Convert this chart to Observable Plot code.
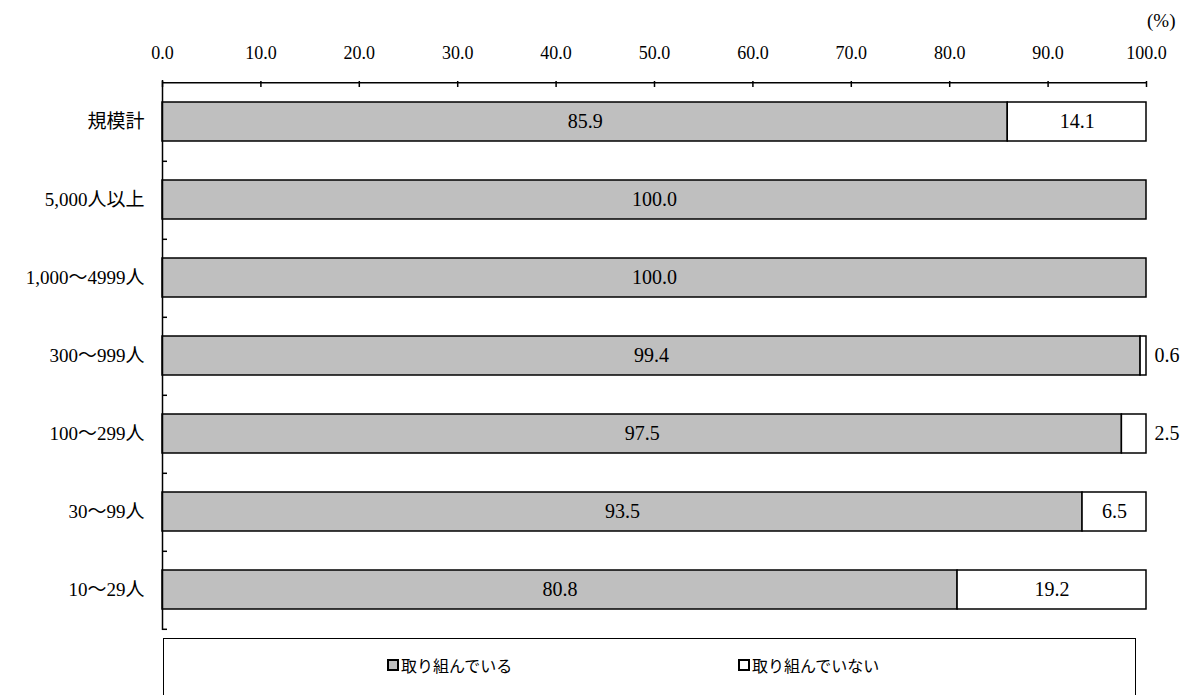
<!DOCTYPE html>
<html>
<head>
<meta charset="utf-8">
<script src="https://cdn.jsdelivr.net/npm/d3@7"></script>
<script src="https://cdn.jsdelivr.net/npm/@observablehq/plot@0.6"></script>
<style>
  body { margin: 0; background: #fff; }
  #chart { position: relative; width: 1195px; }
  #chart svg text { font-family: "Liberation Serif", "Noto Sans CJK JP", serif; }
  #legend {
    position: relative; margin-left: 163px; width: 973px; height: 80px;
    border: 1.5px solid #000; box-sizing: border-box; margin-top: 2px;
    font-family: "Noto Sans CJK JP", sans-serif; font-size: 16px; color: #000;
  }
  .item { position: absolute; top: 14px; display: flex; align-items: center; }
  .sw { width: 8px; height: 8px; border: 2px solid #000; margin-right: 2px; }
</style>
</head>
<body>
<div id="chart"></div>
<script>
const categories = ["規模計", "5,000人以上", "1,000～4999人", "300～999人", "100～299人", "30～99人", "10～29人"];
const series = ["取り組んでいる", "取り組んでいない"];
const doing = [85.9, 100.0, 100.0, 99.4, 97.5, 93.5, 80.8];
const notDoing = [14.1, 0, 0, 0.6, 2.5, 6.5, 19.2];
const xTicks = [0, 10, 20, 30, 40, 50, 60, 70, 80, 90, 100];
const colors = ["#bfbfbf", "#ffffff"];

const data = [];
categories.forEach((c, i) => {
  data.push({cat: c, series: series[0], value: doing[i]});
  data.push({cat: c, series: series[1], value: notDoing[i]});
});
const fmt = d3.format(".1f");
const serif = "Liberation Serif, Noto Sans CJK JP, serif";

const chart = Plot.plot({
  width: 1195,
  height: 636,
  marginLeft: 162,
  marginRight: 49,
  marginTop: 80,
  marginBottom: 6,
  style: {fontFamily: serif, fontSize: "18px", color: "#000", background: "#fff"},
  x: {domain: [0, 100], axis: null, label: null},
  y: {domain: categories, paddingInner: 0.5, paddingOuter: 0.25, axis: null, label: null},
  color: {domain: series, range: colors},
  marks: [
    Plot.barX(data, Plot.stackX({x: "value", y: "cat", z: "series", fill: "series", stroke: "#000", strokeWidth: 1.5})),
    Plot.text(data, Plot.stackX({x: "value", y: "cat", z: "series",
      text: d => d.value >= 5 ? fmt(d.value) : null, fontSize: 20, fontFamily: serif})),
    Plot.text(data, Plot.stackX2({x: "value", y: "cat", z: "series",
      text: d => d.value > 0 && d.value < 5 ? fmt(d.value) : null, textAnchor: "start", dx: 8, fontSize: 20, fontFamily: serif})),
    Plot.ruleY([0], {y: () => categories[0], dy: -39.3, stroke: "#000", strokeWidth: 1.5}),
    Plot.axisX(xTicks, {anchor: "top", label: null, tickFormat: fmt, tickSize: -6, tickPadding: 28, strokeWidth: 1.5, fontSize: 18, fontFamily: serif}),
    Plot.ruleX([0], {stroke: "#000", strokeWidth: 1.5}),
    Plot.axisY(categories, {anchor: "left", label: null, tickSize: 0, tickPadding: 18, fontSize: 19, fontFamily: serif}),
    Plot.axisY(categories, {anchor: "left", label: null, tickSize: -5, text: null, dy: 39.3, strokeWidth: 1.5}),
    Plot.text(["(%)"], {frameAnchor: "top-right", textAnchor: "end", lineAnchor: "middle", dx: 29, dy: -60, fontSize: 19, fontFamily: serif})
  ]
});
document.getElementById("chart").appendChild(chart);

const legend = document.createElement("div");
legend.id = "legend";
const pos = [223, 574];
series.forEach((s, i) => {
  const it = document.createElement("div");
  it.className = "item";
  it.style.left = pos[i] + "px";
  it.innerHTML = `<span class="sw" style="background:${colors[i]}"></span><span>${s}</span>`;
  legend.appendChild(it);
});
document.body.appendChild(legend);
</script>
</body>
</html>
